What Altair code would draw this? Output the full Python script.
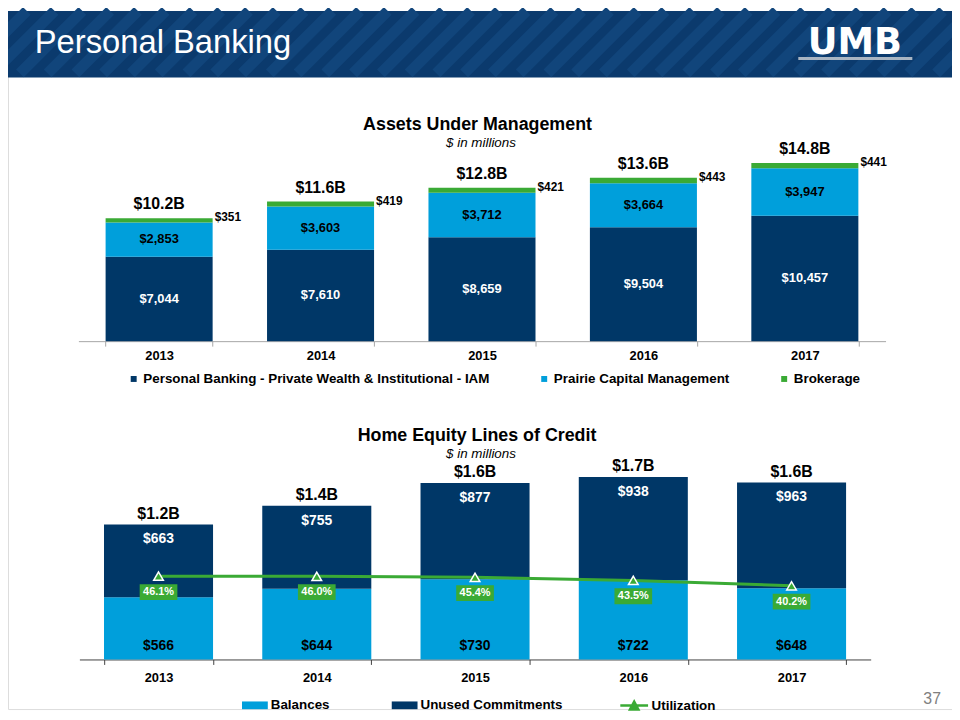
import altair as alt
import pandas as pd

# ---------------- data ----------------
years = ["2013", "2014", "2015", "2016", "2017"]

aum_series = ["Personal Banking - Private Wealth & Institutional - IAM",
              "Prairie Capital Management", "Brokerage"]
aum_iam = [7044, 7610, 8659, 9504, 10457]
aum_prairie = [2853, 3603, 3712, 3664, 3947]
aum_brokerage = [351, 419, 421, 443, 441]

heloc_series = ["Balances", "Unused Commitments"]
util_name = "Utilization"
heloc_balances = [566, 644, 730, 722, 648]
heloc_unused = [663, 755, 877, 938, 963]
heloc_utilization = [46.1, 46.0, 45.4, 43.5, 40.2]

slide_title = "Personal Banking"
logo_text = "UMB"
aum_title = "Assets Under Management"
heloc_title = "Home Equity Lines of Credit"
subtitle_text = "$ in millions"
page_number = "37"

# ---------------- style ----------------
NAVY = "#003767"
BLUE = "#009fdb"
GREEN = "#3aaa35"
BAND = "#0b3a6d"
STRIPE = "#11457b"
FONT = "Liberation Sans"
W, H = 952, 704

aum_df = pd.DataFrame({
    "year": years * 3,
    "series": [aum_series[0]] * 5 + [aum_series[1]] * 5 + [aum_series[2]] * 5,
    "ord": [0] * 5 + [1] * 5 + [2] * 5,
    "value": aum_iam + aum_prairie + aum_brokerage,
})
heloc_df = pd.DataFrame({
    "year": years * 2,
    "series": [heloc_series[0]] * 5 + [heloc_series[1]] * 5,
    "ord": [0] * 5 + [1] * 5,
    "value": heloc_balances + heloc_unused,
})
util_df = pd.DataFrame({"year": years, "util": heloc_utilization, "lbl": [util_name] * 5})

# ---------------- header ----------------
one = pd.DataFrame({"t": [slide_title]})
band = alt.Chart(one).mark_rect(color=BAND).encode(
    x=alt.value(0), x2=alt.value(W), y=alt.value(0), y2=alt.value(67))
stripes = alt.Chart(alt.sequence(-100, 1000, 28, as_="s")).transform_calculate(
    s2="datum.s + 63").mark_rule(color=STRIPE, strokeWidth=11).encode(
    x=alt.X("s:Q", scale=None), x2="s2:Q", y=alt.value(63), y2=alt.value(0))
head_title = alt.Chart(one).mark_text(
    font=FONT, fontSize=33, color="white", align="left", baseline="alphabetic").encode(
    x=alt.value(27), y=alt.value(42), text="t:N")
logo = alt.Chart(pd.DataFrame({"t": [logo_text]})).mark_text(
    font="DejaVu Sans", fontWeight="bold", fontSize=37, color="white",
    align="center", baseline="alphabetic").encode(
    x=alt.value(854), y=alt.value(43), text="t:N")
logo_line = alt.Chart(one).mark_rule(color="#a9b5c2", strokeWidth=3).encode(
    x=alt.value(797), x2=alt.value(912), y=alt.value(48))
header = alt.layer(band, stripes, head_title, logo, logo_line)

# ---------------- top chart: AUM ----------------
top_axis = alt.Axis(orient="bottom", offset=333 - H, title=None, labelAngle=0,
                    labelFont=FONT, labelFontSize=13, labelFontWeight="bold",
                    labelColor="black", domainColor="#a6a6a6", tickColor="#a6a6a6",
                    tickSize=5, tickBand="extent", labelPadding=4, grid=False)
x_top_scale = alt.Scale(domain=years, range=[71, 885], paddingInner=0.337, paddingOuter=0.1685)
y_top_scale = alt.Scale(domain=[0, 16000], range=[333, 139.4], nice=False, zero=False)
X_top = alt.X("year:N", scale=x_top_scale, axis=top_axis, sort=years)

top_legend = alt.Legend(orient="none", legendX=120, legendY=364, direction="horizontal",
                        title=None, symbolType="square", symbolSize=36, symbolStrokeWidth=0,
                        labelFont=FONT, labelFontSize=13.5, labelFontWeight="bold",
                        labelColor="black", columnPadding=48, labelOffset=3,
                        labelLimit=500, padding=0)

top_base = alt.Chart(aum_df).transform_stack(
    stack="value", groupby=["year"], as_=["v0", "v1"],
    sort=[alt.SortField(field="ord", order="ascending")]).transform_calculate(
    mid="(datum.v0 + datum.v1) / 2", label="'$' + format(datum.value, ',')")

top_bars = top_base.mark_bar().encode(
    x=X_top,
    y=alt.Y("v0:Q", scale=y_top_scale, axis=None),
    y2="v1:Q",
    color=alt.Color("series:N", scale=alt.Scale(domain=aum_series, range=[NAVY, BLUE, GREEN]),
                    legend=top_legend),
    order=alt.Order("ord:Q"),
)
top_lab_white = top_base.transform_filter("datum.ord == 0").mark_text(
    font=FONT, fontWeight="bold", fontSize=13, color="white").encode(
    x=X_top, y=alt.Y("mid:Q", scale=y_top_scale, axis=None), text="label:N")
top_lab_black = top_base.transform_filter("datum.ord == 1").mark_text(
    font=FONT, fontWeight="bold", fontSize=13, color="black").encode(
    x=X_top, y=alt.Y("mid:Q", scale=y_top_scale, axis=None), text="label:N")
top_lab_brok = top_base.transform_filter("datum.ord == 2").mark_text(
    font=FONT, fontWeight="bold", fontSize=12, color="black", align="left",
    dx=56, dy=-1).encode(
    x=X_top, y=alt.Y("v1:Q", scale=y_top_scale, axis=None), text="label:N")
top_tot = alt.Chart(aum_df).transform_aggregate(
    total="sum(value)", groupby=["year"]).transform_calculate(
    t="'$' + format(datum.total / 1000, '.1f') + 'B'").mark_text(
    font=FONT, fontWeight="bold", fontSize=16, color="black", dy=-14).encode(
    x=X_top, y=alt.Y("total:Q", scale=y_top_scale, axis=None), text="t:N")
top_title = alt.Chart(pd.DataFrame({"t": [aum_title]})).mark_text(
    font=FONT, fontWeight="bold", fontSize=18, color="black").encode(
    x=alt.value(473.5), y=alt.value(115), text="t:N")
top_sub = alt.Chart(pd.DataFrame({"t": [subtitle_text]})).mark_text(
    font=FONT, fontStyle="italic", fontSize=13.5, color="black").encode(
    x=alt.value(477), y=alt.value(133), text="t:N")
top = alt.layer(top_bars, top_lab_white, top_lab_black, top_lab_brok, top_tot, top_title, top_sub)

# ---------------- bottom chart: HELOC ----------------
bot_axis = alt.Axis(orient="bottom", offset=654 - H, title=None, labelAngle=0,
                    labelFont=FONT, labelFontSize=13, labelFontWeight="bold",
                    labelColor="black", domainColor="#404040", tickColor="#404040",
                    tickSize=5, tickBand="extent", labelPadding=7, grid=False)
x_bot_scale = alt.Scale(domain=years, range=[72, 870], paddingInner=0.311, paddingOuter=0.1555)
y_bot_scale = alt.Scale(domain=[0, 1800], range=[654, 454.6], nice=False, zero=False)
y_pct_scale = alt.Scale(domain=[0, 100], range=[645.8, 481.4], nice=False, zero=False)
X_bot = alt.X("year:N", scale=x_bot_scale, axis=bot_axis, sort=years)

rect_path = "M-1,-0.3H1V0.3H-1Z"
util_path = "M-1,0H1M-0.3,0.28L0,-0.28L0.3,0.28Z"
bot_legend = alt.Legend(orient="none", legendX=236, legendY=687, direction="horizontal",
                        title=None, symbolType=rect_path, symbolSize=676, symbolStrokeWidth=0,
                        labelFont=FONT, labelFontSize=13.5, labelFontWeight="bold",
                        labelColor="black", columnPadding=62, labelOffset=3,
                        labelLimit=500, padding=0)
util_legend = alt.Legend(orient="none", legendX=616, legendY=685, direction="horizontal",
                         title=None, symbolType=util_path, symbolSize=784,
                         symbolStrokeColor=GREEN, symbolFillColor=GREEN, symbolStrokeWidth=2.5,
                         labelFont=FONT, labelFontSize=13.5, labelFontWeight="bold",
                         labelColor="black", labelOffset=2, labelLimit=500, padding=0)

bot_base = alt.Chart(heloc_df).transform_stack(
    stack="value", groupby=["year"], as_=["v0", "v1"],
    sort=[alt.SortField(field="ord", order="ascending")]).transform_calculate(
    label="'$' + format(datum.value, ',')")

bot_bars = bot_base.mark_bar().encode(
    x=X_bot,
    y=alt.Y("v0:Q", scale=y_bot_scale, axis=None),
    y2="v1:Q",
    color=alt.Color("series:N", scale=alt.Scale(domain=heloc_series, range=[BLUE, NAVY]),
                    legend=bot_legend),
    order=alt.Order("ord:Q"),
)
bot_lab_bal = bot_base.transform_filter("datum.ord == 0").mark_text(
    font=FONT, fontWeight="bold", fontSize=14, color="black", dy=-14).encode(
    x=X_bot, y=alt.Y("v0:Q", scale=y_bot_scale, axis=None), text="label:N")
bot_lab_unused = bot_base.transform_filter("datum.ord == 1").mark_text(
    font=FONT, fontWeight="bold", fontSize=14, color="white", dy=15).encode(
    x=X_bot, y=alt.Y("v1:Q", scale=y_bot_scale, axis=None), text="label:N")
bot_tot = alt.Chart(heloc_df).transform_aggregate(
    total="sum(value)", groupby=["year"]).transform_calculate(
    t="'$' + format(datum.total / 1000, '.1f') + 'B'").mark_text(
    font=FONT, fontWeight="bold", fontSize=16, color="black", dy=-11).encode(
    x=X_bot, y=alt.Y("total:Q", scale=y_bot_scale, axis=None), text="t:N")

util_base = alt.Chart(util_df).transform_calculate(pl="format(datum.util, '.1f') + '%'")
Y_pct = alt.Y("util:Q", scale=y_pct_scale, axis=None)
util_line = util_base.mark_line(strokeWidth=3).encode(
    x=X_bot, y=Y_pct,
    stroke=alt.Stroke("lbl:N", scale=alt.Scale(domain=[util_name], range=[GREEN]),
                      legend=util_legend))
util_pts = util_base.mark_point(shape="triangle-up", size=95, filled=True, fill=GREEN,
                                stroke="white", strokeWidth=1.5, opacity=1).encode(x=X_bot, y=Y_pct)
box_path = "M-1,-0.42H1V0.42H-1Z"
util_box = util_base.mark_point(shape=box_path, size=1444, filled=True, color=GREEN,
                                opacity=1, yOffset=16).encode(x=X_bot, y=Y_pct)
util_txt = util_base.mark_text(font=FONT, fontWeight="bold", fontSize=11, color="white",
                               dy=16).encode(x=X_bot, y=Y_pct, text="pl:N")
bot_title = alt.Chart(pd.DataFrame({"t": [heloc_title]})).mark_text(
    font=FONT, fontWeight="bold", fontSize=18, color="black").encode(
    x=alt.value(473), y=alt.value(429), text="t:N")
bot_sub = alt.Chart(pd.DataFrame({"t": [subtitle_text]})).mark_text(
    font=FONT, fontStyle="italic", fontSize=13.5, color="black").encode(
    x=alt.value(477), y=alt.value(447), text="t:N")

bottom = alt.layer(bot_bars, bot_lab_bal, bot_lab_unused, bot_tot, util_line, util_pts,
                   util_box, util_txt, bot_title, bot_sub).resolve_scale(y="independent")

pagenum = alt.Chart(pd.DataFrame({"t": [page_number]})).mark_text(
    font=FONT, fontSize=16, color="#808080").encode(
    x=alt.value(932), y=alt.value(694), text="t:N")

chart = alt.layer(header, top, bottom, pagenum).resolve_scale(
    x="independent", y="independent", color="independent").properties(
    width=W, height=H, padding=0, autosize=alt.AutoSizeParams(type="none"),
    background="white").configure_view(stroke=None).configure(font=FONT)

chart.save("out.html", embed_options={"renderer": "svg", "actions": False})
